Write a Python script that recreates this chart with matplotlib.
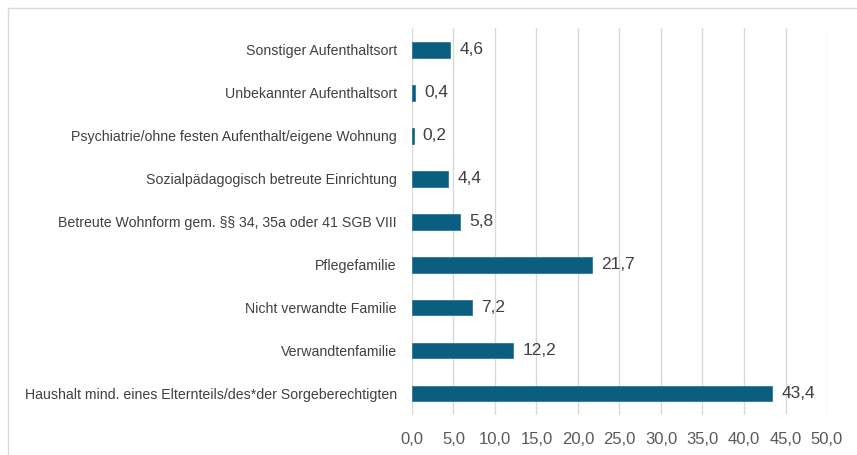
import matplotlib
matplotlib.use("Agg")
import matplotlib.pyplot as plt
from matplotlib.lines import Line2D

categories = [
    "Haushalt mind. eines Elternteils/des*der Sorgeberechtigten",
    "Verwandtenfamilie",
    "Nicht verwandte Familie",
    "Pflegefamilie",
    "Betreute Wohnform gem. §§ 34, 35a oder 41 SGB VIII",
    "Sozialpädagogisch betreute Einrichtung",
    "Psychiatrie/ohne festen Aufenthalt/eigene Wohnung",
    "Unbekannter Aufenthaltsort",
    "Sonstiger Aufenthaltsort",
]
values = [43.4, 12.2, 7.2, 21.7, 5.8, 4.4, 0.2, 0.4, 4.6]
xticks = [0, 5, 10, 15, 20, 25, 30, 35, 40, 45, 50]

def de(v):
    return f"{v:.1f}".replace(".", ",")

plt.rcParams['font.family'] = ['Liberation Sans', 'DejaVu Sans']

fig = plt.figure(figsize=(8.57, 4.55), dpi=100)
ax = fig.add_axes([0.4807, 0.088, 0.965 - 0.4807, 0.938 - 0.088])

y = list(range(len(categories)))
ax.barh(y, values, height=0.37, color="#0b5e80", edgecolor="#2a7a98", linewidth=0.6, zorder=3)
for yi, v in zip(y, values):
    ax.text(v + 1.1, yi, de(v), va="center", ha="left", fontsize=12.5, color="#404040")

ax.set_xlim(0, 50)
ax.set_ylim(-0.5, len(categories) - 0.5)
ax.set_xticks(xticks)
ax.set_xticklabels([de(t) for t in xticks], fontsize=12, color="#595959")
ax.set_yticks(y)
ax.set_yticklabels(categories, fontsize=10.2, color="#404040")
ax.tick_params(axis="both", length=0)
ax.tick_params(axis="x", pad=12)
ax.tick_params(axis="y", pad=11)
ax.grid(axis="x", color="#d9d9d9", linewidth=1, zorder=0)
for s in ax.spines.values():
    s.set_visible(False)

fig.add_artist(Line2D([8 / 857, 1], [1 - 8 / 455, 1 - 8 / 455], transform=fig.transFigure, color="#d9d9d9", lw=1))
fig.add_artist(Line2D([8 / 857, 8 / 857], [0, 1 - 8 / 455], transform=fig.transFigure, color="#d9d9d9", lw=1))

fig.savefig("out.png", dpi=100)
